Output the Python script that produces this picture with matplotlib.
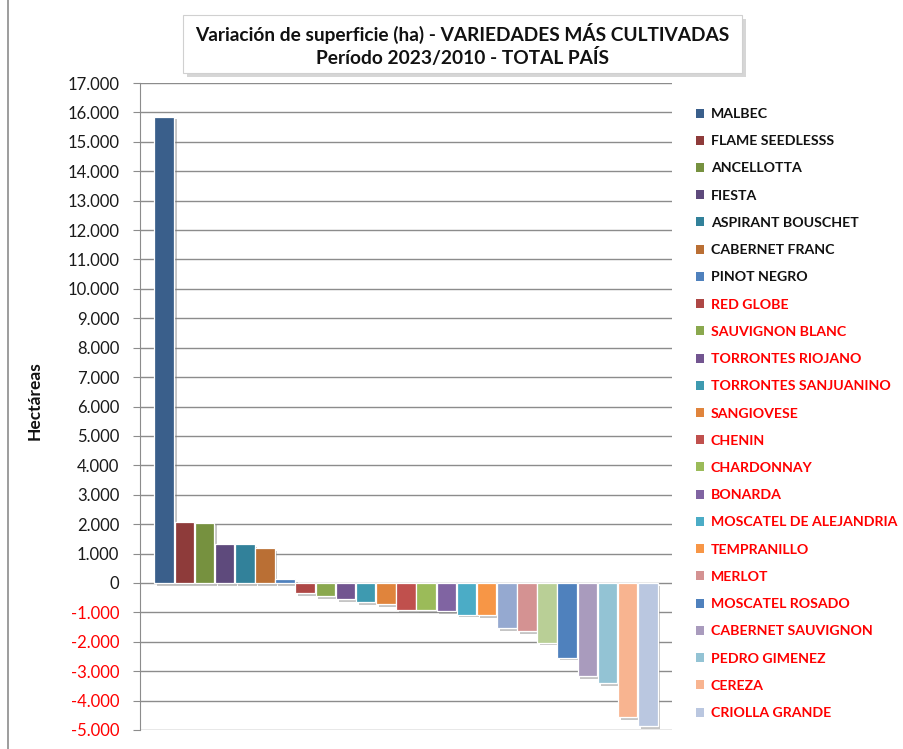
import matplotlib.pyplot as plt
import matplotlib.patheffects as pe
from matplotlib.patches import Rectangle
from matplotlib.lines import Line2D
from matplotlib.ticker import FuncFormatter, MultipleLocator

plt.rcParams['font.family'] = ['Lato', 'DejaVu Sans']

# varieties in plotting order (two bars have no legend entry in the original)
varieties = ['MALBEC', 'FLAME SEEDLESSS', 'ANCELLOTTA', 'FIESTA', 'ASPIRANT BOUSCHET',
             'CABERNET FRANC', 'PINOT NEGRO', 'RED GLOBE', 'SAUVIGNON BLANC',
             'TORRONTES RIOJANO', 'TORRONTES SANJUANINO', 'SANGIOVESE', 'CHENIN',
             'CHARDONNAY', 'BONARDA', 'MOSCATEL DE ALEJANDRIA', 'TEMPRANILLO', None,
             'MERLOT', None, 'MOSCATEL ROSADO', 'CABERNET SAUVIGNON', 'PEDRO GIMENEZ',
             'CEREZA', 'CRIOLLA GRANDE']
variation_ha = [15860, 2080, 2050, 1315, 1310, 1180, 125, -350, -460, -550, -660, -720,
                -910, -930, -970, -1080, -1100, -1540, -1650, -2030, -2540, -3180,
                -3410, -4550, -4860]
colors = ['#3A5F8B', '#8E3B3A', '#76913F', '#5E4A7C', '#32819A', '#BA6F34', '#4F81BD',
          '#AE4745', '#8AA84E', '#725590', '#3E9AB0', '#E0843C', '#C0504D', '#9BBB59',
          '#8064A2', '#4BACC6', '#F79646', '#95A9D0', '#D49292', '#B9CF96', '#4F81BD',
          '#A99BBD', '#93C3D4', '#F8B490', '#BAC7E0']
n_black = 7  # first legend labels in black, the rest in red

W, H = 904, 749
fig = plt.figure(figsize=(W / 100, H / 100), dpi=100)
ax = fig.add_axes([140 / W, 1 - 730 / H, (672 - 140) / W, (730 - 83) / H])

shadow = [pe.SimplePatchShadow(offset=(2, -2), shadow_rgbFace='#7f7f7f', alpha=0.45),
          pe.Normal()]
bars = ax.bar(range(len(variation_ha)), variation_ha, width=0.97, color=colors,
              edgecolor='white', linewidth=0.9, zorder=3)
for b in bars:
    b.set_path_effects(shadow)

ax.set_ylim(-5000, 17000)
ax.set_xlim(-1.2, len(variation_ha) - 1 + 1.2)
ax.yaxis.set_major_locator(MultipleLocator(1000))
ax.yaxis.set_major_formatter(FuncFormatter(lambda v, p: f'{int(v):,}'.replace(',', '.')))
ax.grid(axis='y', color='#8c8c8c', linewidth=1.0, zorder=0)
ax.set_axisbelow(True)
ax.set_xticks([])
for s in ['top', 'right', 'bottom']:
    ax.spines[s].set_visible(False)
ax.spines['left'].set_color('#8c8c8c')
ax.tick_params(axis='y', direction='out', length=5, color='#8c8c8c', labelsize=12,
               pad=10)
for lab, v in zip(ax.get_yticklabels(), ax.get_yticks()):
    lab.set_color('#ff0000' if v < 0 else '#1a1a1a')

# legend
handles = [b for b, name in zip(bars, varieties) if name]
labels = [name for name in varieties if name]
lab_colors = ['#111111'] * n_black + ['#ff0000'] * (len(labels) - n_black)
leg = fig.legend(handles, labels, loc='upper left',
                 bbox_to_anchor=(696 / W, 1 - 108 / H), frameon=False,
                 handlelength=0.6, handleheight=0.6, handletextpad=0.45,
                 labelspacing=1.075, borderpad=0, borderaxespad=0,
                 labelcolor=lab_colors, prop={'weight': 'bold', 'size': 10.2})
for h in leg.legend_handles:
    h.set_path_effects([])
    h.set_edgecolor('none')

# title box
box = Rectangle((183 / W, 1 - 73 / H), (742 - 183) / W, (73 - 15) / H,
                transform=fig.transFigure, facecolor='white', edgecolor='#d0d0d0',
                linewidth=0.8, zorder=5)
box.set_path_effects([pe.SimplePatchShadow(offset=(3, -3), shadow_rgbFace='#999999',
                                           alpha=0.4), pe.Normal()])
fig.patches.append(box)
fig.text(462.5 / W, 1 - 45 / H,
         'Variación de superficie (ha) - VARIEDADES MÁS CULTIVADAS\nPeríodo 2023/2010 - TOTAL PAÍS',
         ha='center', va='center', fontsize=13.8, fontweight='bold', color='#111111',
         linespacing=1.22, zorder=6)

fig.text(35 / W, 1 - 401 / H, 'Hectáreas', rotation=90, ha='center', va='center',
         fontsize=12.5, fontweight='bold', color='#111111')

# chart area border on the left
fig.lines.append(Line2D([8 / W, 8 / W], [0, 1], transform=fig.transFigure,
                        color='#8c8c8c', linewidth=1.2))

fig.savefig('out.png', dpi=100)
